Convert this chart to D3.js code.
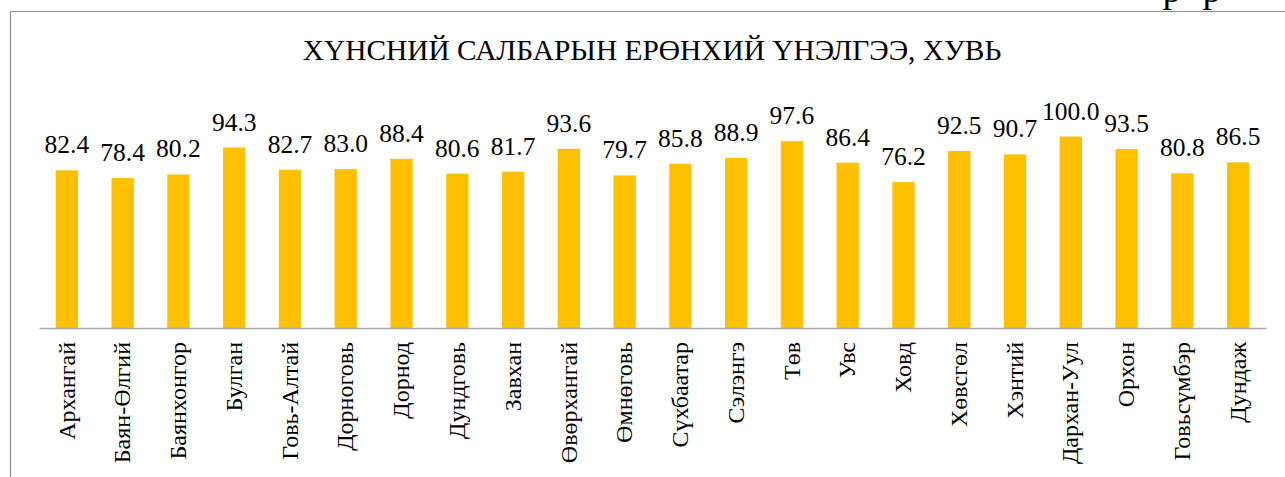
<!DOCTYPE html>
<html>
<head>
<meta charset="utf-8">
<script src="https://cdn.jsdelivr.net/npm/d3@7"></script>
<style>
  body { margin: 0; background: #fff; }
  svg { display: block; font-family: "Liberation Serif", "Times New Roman", serif; }
</style>
</head>
<body>
<svg id="chart"></svg>
<script>
// data
const aimags = ['Архангай', 'Баян-Өлгий', 'Баянхонгор', 'Булган', 'Говь-Алтай', 'Дорноговь', 'Дорнод',
  'Дундговь', 'Завхан', 'Өвөрхангай', 'Өмнөговь', 'Сүхбаатар', 'Сэлэнгэ', 'Төв', 'Увс', 'Ховд',
  'Хөвсгөл', 'Хэнтий', 'Дархан-Уул', 'Орхон', 'Говьсүмбэр', 'Дундаж'];
const scores = [82.4, 78.4, 80.2, 94.3, 82.7, 83.0, 88.4, 80.6, 81.7, 93.6, 79.7, 85.8, 88.9, 97.6,
  86.4, 76.2, 92.5, 90.7, 100.0, 93.5, 80.8, 86.5];
const title = 'ХҮНСНИЙ САЛБАРЫН ЕРӨНХИЙ ҮНЭЛГЭЭ, ХУВЬ';

let width = 1285;
let height = 477;
let left = 39, right = 1266, base = 328;

const svg = d3.select('#chart').attr('width', width).attr('height', height);

// bits of page text cut off above the frame
svg.append('text').attr('x', 1172).attr('y', 2).attr('font-size', 38).attr('text-anchor', 'middle').text('р');
svg.append('text').attr('x', 1212).attr('y', 2).attr('font-size', 38).attr('text-anchor', 'middle').text('р');

// chart frame (left + top edge visible)
svg.append('path')
  .attr('d', `M10.5,${height} L10.5,11.5 L${width},11.5`)
  .attr('fill', 'none').attr('stroke', '#8f8f8f').attr('stroke-width', 1.2);

svg.append('text')
  .attr('x', 652).attr('y', 60)
  .attr('text-anchor', 'middle')
  .attr('font-size', 29.4)
  .attr('fill', '#000')
  .text(title);

const xScale = d3.scaleBand().domain(aimags).range([left, right]).paddingInner(0.6).paddingOuter(0.3);
const yScale = d3.scaleLinear().domain([0, 110]).range([base, base - 1.914 * 110]);

svg.selectAll('rect.bar').data(aimags).enter().append('rect')
  .attr('class', 'bar')
  .attr('x', d => xScale(d))
  .attr('width', xScale.bandwidth())
  .attr('y', (d, i) => yScale(scores[i]))
  .attr('height', (d, i) => yScale(0) - yScale(scores[i]))
  .attr('fill', '#FFC000');

svg.selectAll('text.val').data(aimags).enter().append('text')
  .attr('class', 'val')
  .attr('x', d => xScale(d) + xScale.bandwidth() / 2)
  .attr('y', (d, i) => yScale(scores[i]) - 17)
  .attr('text-anchor', 'middle')
  .attr('font-size', 25.5)
  .text((d, i) => scores[i].toFixed(1));

// category axis
const xAxis = d3.axisBottom(xScale).tickSize(0).tickPadding(0);
const gx = svg.append('g').attr('transform', `translate(0, ${base})`).call(xAxis);
gx.select('.domain').attr('stroke', '#a6a6a6').attr('stroke-width', 1.7);
gx.selectAll('text')
  .attr('font-family', '"Liberation Serif", "Times New Roman", serif')
  .attr('font-size', 24)
  .attr('fill', '#000')
  .attr('text-anchor', 'end')
  .attr('transform', 'rotate(-90)')
  .attr('x', -14)
  .attr('y', 0)
  .attr('dy', '0.32em');
</script>
</body>
</html>
